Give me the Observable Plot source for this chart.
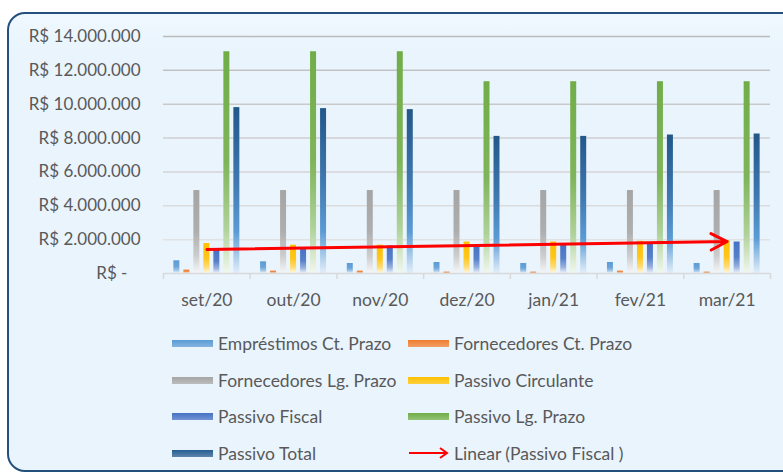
<!DOCTYPE html>
<html><head><meta charset="utf-8">
<script src="https://cdn.jsdelivr.net/npm/d3@7"></script>
<script src="https://cdn.jsdelivr.net/npm/@observablehq/plot@0.6"></script>
<style>
body{margin:0;background:#fff;width:783px;height:474px;overflow:hidden;position:relative;font-family:Lato,"Open Sans",sans-serif;}
#frame{position:absolute;left:7px;top:12px;width:800px;height:460px;box-sizing:border-box;border:2.5px solid #24507E;border-radius:18px;background:linear-gradient(#EFF8FE,#E9F4FD 40px);}
#chart{position:absolute;left:0;top:0;}
#legend{position:absolute;left:172px;top:325px;display:grid;grid-template-columns:236px 240px;grid-auto-rows:36.7px;color:#595959;font-size:17.5px;}
.item{display:flex;align-items:center;white-space:nowrap;}
.sw{width:41px;height:7px;margin-right:5px;flex:none;}
</style></head><body>
<div id="frame"></div><div id="chart"></div><div id="legend"></div>
<script>
const months = ["set/20","out/20","nov/20","dez/20","jan/21","fev/21","mar/21"];
const seriesNames = ["Empréstimos Ct. Prazo","Fornecedores Ct. Prazo","Fornecedores Lg. Prazo","Passivo Circulante","Passivo Fiscal","Passivo Lg. Prazo","Passivo Total"];
const emprestimosCt = [750000,690000,590000,650000,590000,650000,590000];
const fornecedoresCt = [200000,140000,140000,80000,80000,140000,80000];
const fornecedoresLg = [4900000,4900000,4900000,4900000,4900000,4900000,4900000];
const passivoCirculante = [1770000,1670000,1670000,1860000,1860000,1900000,1930000];
const passivoFiscal = [1380000,1470000,1620000,1680000,1740000,1800000,1860000];
const passivoLgPrazo = [13100000,13100000,13100000,11330000,11330000,11330000,11330000];
const passivoTotal = [9800000,9740000,9680000,8100000,8100000,8180000,8240000];
const yTicks = [0,2000000,4000000,6000000,8000000,10000000,12000000,14000000];
const trendLabel = "Linear (Passivo Fiscal )";

const seriesValues = [emprestimosCt,fornecedoresCt,fornecedoresLg,passivoCirculante,passivoFiscal,passivoLgPrazo,passivoTotal];
const colors = ["#5B9BD5","#ED7D31","#A5A5A5","#FFC000","#4472C4","#70AD47","#255E91"];

const locale = d3.formatLocale({decimal: ",", thousands: ".", grouping: [3], currency: ["R$ ", ""]});
const num = locale.format(",.0f");
const fmt = v => v === 0 ? "R$ -\u00a0\u00a0\u00a0" : "R$ " + num(v);

// grouped bar layout inside each month (in month units)
const step = 0.1153, barW = 0.069;
const marks = [];
marks.push(Plot.ruleY(yTicks.slice(1), {stroke: d => d3.interpolateRgb("#E8E8E8", "#BCBCBC")(d / 14000000), strokeWidth: 1.5}));
seriesValues.forEach((vals, s) => {
  const data = vals.map((v, i) => ({i, v}));
  marks.push(Plot.rectY(data, {
    x1: d => d.i + 1 + (s - 3) * step - barW / 2,
    x2: d => d.i + 1 + (s - 3) * step + barW / 2,
    y1: 0, y2: "v", fill: `url(#grad${s})`
  }));
});
marks.push(Plot.ruleY([0], {stroke: "#D9D9D9", strokeWidth: 1.5}));
marks.push(Plot.axisX(d3.range(0, months.length + 1).map(i => i + 0.5), {tickSize: 6, tickFormat: () => "", stroke: "#D9D9D9", strokeWidth: 1.5}));
marks.push(Plot.axisX(d3.range(1, months.length + 1), {tickSize: 0, tickPadding: 20, tickFormat: i => months[i - 1], fontSize: 17.5, fill: "#595959"}));
marks.push(Plot.axisY(yTicks, {tickSize: 0, tickPadding: 23, tickFormat: fmt, fontSize: 17, fill: "#595959"}));
// linear trendline of Passivo Fiscal
const xs = passivoFiscal.map((_, i) => i + 1);
const mx = d3.mean(xs), my = d3.mean(passivoFiscal);
const slope = d3.sum(xs, (x, i) => (x - mx) * (passivoFiscal[i] - my)) / d3.sum(xs, x => (x - mx) ** 2);
const icpt = my - slope * mx;
const trend = [{x1: 1, y1: icpt + slope * 1, x2: months.length, y2: icpt + slope * months.length}];
marks.push(Plot.arrow(trend, {x1: "x1", y1: "y1", x2: "x2", y2: "y2", stroke: "#FF0000", strokeWidth: 3, headAngle: 54, headLength: 9}));

const chart = Plot.plot({
  width: 783, height: 320,
  marginLeft: 163, marginRight: 13, marginTop: 36, marginBottom: 47,
  x: {type: "linear", domain: [0.5, months.length + 0.5], axis: null},
  y: {domain: [0, 14000000], axis: null},
  color: {type: "identity"},
  style: {fontFamily: "Lato, 'Open Sans', sans-serif", fontSize: "17px", color: "#595959", background: "transparent"},
  marks
});
const defs = d3.select(chart).insert("defs", ":first-child");
const mix = (c, t) => d3.interpolateRgb(c, "#ffffff")(t);
colors.forEach((c, s) => {
  const g = defs.append("linearGradient").attr("id", `grad${s}`).attr("x1", 0).attr("y1", 0).attr("x2", 0).attr("y2", 1);
  const stops = s === 6
    ? [[0, "#225789"], [0.45, "#3F79B0"], [0.75, "#5B9BD5"], [1, "#E2EEF9"]]
    : [[0, c], [0.5, mix(c, 0.1)], [0.8, mix(c, 0.45)], [1, mix(c, 0.9)]];
  stops.forEach(([o, col]) => g.append("stop").attr("offset", o).attr("stop-color", col));
});
document.getElementById("chart").appendChild(chart);

// legend
const legend = d3.select("#legend");
seriesNames.forEach((name, s) => {
  const it = legend.append("div").attr("class", "item");
  it.append("div").attr("class", "sw").style("background", `linear-gradient(${colors[s]}, ${mix(colors[s], 0.25)})`);
  it.append("span").text(name);
});
const tr = legend.append("div").attr("class", "item");
tr.append("svg").attr("width", 41).attr("height", 14).style("margin-right", "5px").style("flex", "none")
  .call(g => g.append("path").attr("d", "M1,7H39M32,2L39,7L32,12").attr("fill", "none").attr("stroke", "#FF0000").attr("stroke-width", 2));
tr.append("span").text(trendLabel);
</script>
</body></html>
